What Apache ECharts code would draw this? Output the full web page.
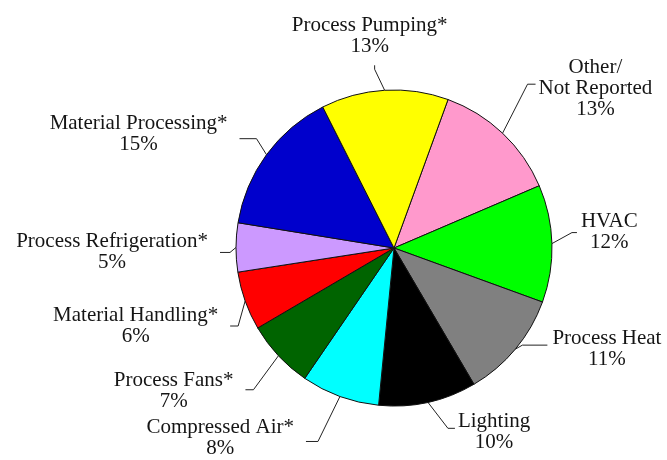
<!DOCTYPE html>
<html>
<head>
<meta charset="utf-8">
<title>Pie</title>
<script src="https://cdn.jsdelivr.net/npm/echarts@6/dist/echarts.min.js"></script>
<style>
  html, body { margin: 0; padding: 0; background: #fff; }
  #main { width: 667px; height: 460px; }
</style>
</head>
<body>
<div id="main"></div>
<script>
// slices, clockwise from the top
var categories = ['Other/\nNot Reported', 'HVAC', 'Process Heat', 'Lighting', 'Compressed Air*',
  'Process Fans*', 'Material Handling*', 'Process Refrigeration*', 'Material Processing*', 'Process Pumping*'];
var shares = [13, 12, 11, 10, 8, 7, 6, 5, 15, 13];
var colors = ['#ff99cc', '#00ff00', '#808080', '#000000', '#00ffff',
  '#006400', '#ff0000', '#cc99ff', '#0000cc', '#ffff00'];

// leader lines: elbow offset from the pie edge, then a short run toward the text
// side: 1 right, -1 left, 0 straight up
var leaders = [
  { d: [25, -49], run: 8, side: 1, gap: 3, dy: 4 },
  { d: [20, -11], run: 5, side: 1, gap: 4, dy: -1 },
  { d: [7, -4], run: 25, side: 1, gap: 5, dy: 4 },
  { d: [20, 26], run: 7, side: 1, gap: 3, dy: 4 },
  { d: [-22, 45], run: 12, side: -1, gap: 12, dy: -3 },
  { d: [-25, 34], run: 8, side: -1, gap: 12, dy: 1 },
  { d: [-7, 25], run: 8, side: -1, gap: 12, dy: 0 },
  { d: [-6, 5], run: 10, side: -1, gap: 12, dy: 0 },
  { d: [-10, -16], run: 17, side: -1, gap: 12, dy: -5 },
  { d: [-10, -21], run: 4, side: 0, gap: 8, dx: -5 }
];

var data = categories.map(function (name, i) {
  return { name: name, value: shares[i], itemStyle: { color: colors[i] } };
});

var myChart = echarts.init(document.getElementById('main'));
var option = {
  backgroundColor: '#fff',
  animation: false,
  series: [{
    type: 'pie',
    center: [394, 248],
    radius: 158,
    startAngle: 70,
    clockwise: true,
    avoidLabelOverlap: false,
    data: data,
    itemStyle: { borderColor: '#111', borderWidth: 1 },
    emphasis: { disabled: true },
    label: {
      show: true,
      position: 'outside',
      fontFamily: 'Liberation Serif',
      fontSize: 21,
      lineHeight: 21,
      color: '#151515',
      formatter: function (p) {
        var lines = (p.name + '\n' + p.value + '%').split('\n');
        return lines.map(function (l) { return '{c|' + l + '}'; }).join('\n');
      },
      rich: {
        c: { fontFamily: 'Liberation Serif', fontSize: 21, lineHeight: 21, align: 'center', color: '#151515' }
      }
    },
    labelLine: { show: true, length: 10, length2: 10, lineStyle: { color: '#222', width: 1 } },
    labelLayout: function (p) {
      var L = leaders[p.dataIndex];
      var p0 = p.labelLinePoints[0];
      var p1 = [p0[0] + L.d[0], p0[1] + L.d[1]];
      var p2;
      if (L.side === 0) {
        p2 = [p1[0], p1[1] - L.run];
        return {
          x: p2[0] + (L.dx || 0), y: p2[1] - L.gap,
          align: 'center', verticalAlign: 'bottom',
          labelLinePoints: [p0, p1, p2]
        };
      }
      p2 = [p1[0] + L.side * L.run, p1[1]];
      return {
        x: p2[0] + L.side * L.gap, y: p2[1] + (L.dy || 0),
        align: L.side > 0 ? 'left' : 'right', verticalAlign: 'middle',
        labelLinePoints: [p0, p1, p2]
      };
    }
  }]
};
myChart.setOption(option);
</script>
</body>
</html>
